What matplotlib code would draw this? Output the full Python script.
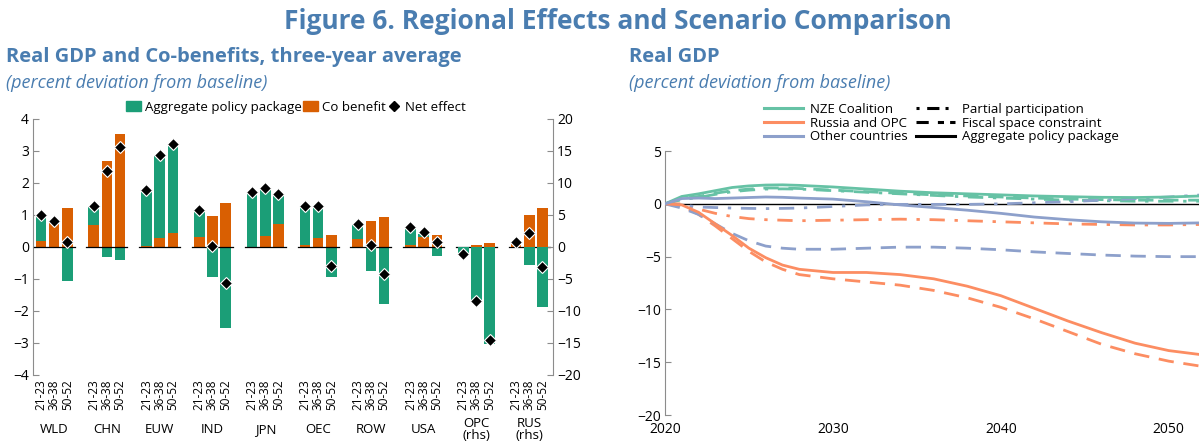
import matplotlib
matplotlib.use("Agg")
import matplotlib.pyplot as plt
from matplotlib.patches import Patch
from matplotlib.lines import Line2D
from matplotlib.transforms import blended_transform_factory
import numpy as np

plt.rcParams["font.family"] = ["Open Sans", "DejaVu Sans"]

# ---- left panel data (three-year averages) ----
regions = ["WLD", "CHN", "EUW", "IND", "JPN", "OEC", "ROW", "USA", "OPC\n(rhs)", "RUS\n(rhs)"]
periods = ["21-23", "36-38", "50-52"]
rhs_regions = ["OPC\n(rhs)", "RUS\n(rhs)"]

# aggregate policy package (green)
policy = [
    [0.78, -0.04, -1.05],   # WLD
    [0.55, -0.32, -0.42],   # CHN
    [1.75, 2.55, 2.71],     # EUW
    [0.83, -0.93, -2.52],   # IND
    [1.70, 1.45, 0.87],     # JPN
    [1.20, 0.97, -0.95],    # OEC
    [0.43, -0.75, -1.78],   # ROW
    [0.55, 0.10, -0.27],    # USA
    [-1.10, -8.7, -15.2],   # OPC (rhs)
    [0.15, -2.8, -9.3],     # RUS (rhs)
]
# co benefit (orange)
cobenefit = [
    [0.19, 0.83, 1.21],
    [0.70, 2.68, 3.53],
    [0.02, 0.28, 0.45],
    [0.30, 0.96, 1.37],
    [-0.02, 0.35, 0.72],
    [0.05, 0.28, 0.36],
    [0.25, 0.80, 0.93],
    [0.05, 0.30, 0.38],
    [0.0, 0.3, 0.6],
    [0.6, 4.95, 6.15],
]
# net effect (diamonds)
net = [
    [1.0, 0.81, 0.16],
    [1.28, 2.37, 3.12],
    [1.77, 2.88, 3.21],
    [1.17, 0.03, -1.14],
    [1.73, 1.85, 1.67],
    [1.29, 1.29, -0.59],
    [0.72, 0.06, -0.86],
    [0.63, 0.46, 0.14],
    [-1.1, -8.4, -14.6],
    [0.8, 2.15, -3.2],
]

# ---- right panel data (real GDP, % dev. from baseline) ----
years = [2020, 2021, 2022, 2023, 2024, 2025, 2026, 2027, 2028, 2030, 2032,
         2034, 2036, 2038, 2040, 2042, 2044, 2046, 2048, 2050, 2052]
nze_agg = [0, 0.7, 0.95, 1.25, 1.55, 1.7, 1.78, 1.8, 1.75, 1.6, 1.4,
           1.2, 1.05, 0.95, 0.85, 0.75, 0.68, 0.62, 0.6, 0.65, 0.75]
nze_fiscal = [0, 0.5, 0.7, 1.0, 1.25, 1.4, 1.5, 1.5, 1.45, 1.3, 1.15,
              1.0, 0.85, 0.75, 0.65, 0.55, 0.45, 0.4, 0.35, 0.35, 0.35]
nze_partial = [0, 0.4, 0.6, 0.9, 1.15, 1.3, 1.4, 1.42, 1.4, 1.25, 1.1,
               0.95, 0.8, 0.65, 0.55, 0.45, 0.35, 0.3, 0.25, 0.25, 0.25]
rus_agg = [0, -0.1, -0.8, -1.9, -3.0, -4.2, -5.1, -5.8, -6.2, -6.5, -6.5,
           -6.7, -7.1, -7.8, -8.7, -9.9, -11.1, -12.2, -13.2, -13.9, -14.3]
rus_fiscal = [0, -0.2, -1.0, -2.1, -3.3, -4.5, -5.5, -6.2, -6.7, -7.1, -7.4,
              -7.7, -8.2, -8.9, -9.8, -10.9, -12.1, -13.3, -14.2, -14.9, -15.4]
rus_partial = [0, 0, -0.5, -0.9, -1.2, -1.4, -1.5, -1.55, -1.6, -1.55, -1.5,
               -1.45, -1.5, -1.6, -1.7, -1.8, -1.9, -1.95, -2.0, -2.0, -1.95]
oth_agg = [0, 0.5, 0.55, 0.5, 0.55, 0.6, 0.65, 0.62, 0.55, 0.45, 0.2,
           -0.1, -0.35, -0.6, -0.9, -1.25, -1.5, -1.7, -1.82, -1.85, -1.8]
oth_fiscal = [0, -0.4, -1.0, -1.9, -2.8, -3.5, -4.0, -4.2, -4.3, -4.3, -4.2,
              -4.1, -4.1, -4.2, -4.35, -4.55, -4.7, -4.85, -4.95, -5.0, -5.0]
oth_partial = [0, -0.1, -0.3, -0.35, -0.4, -0.43, -0.45, -0.43, -0.4, -0.25, -0.1,
               -0.05, -0.05, -0.05, 0.0, 0.1, 0.2, 0.35, 0.5, 0.65, 0.85]

GREEN, ORANGE = "#1b9e77", "#d95f02"
C_NZE, C_RUS, C_OTH = "#66c2a5", "#fc8d62", "#8da0cb"
BLUE_T = "#4a7db0"
GRAY = "#8c8c8c"

fig = plt.figure(figsize=(11.99, 4.43), dpi=100)

fig.text(0.515, 0.952, "Figure 6. Regional Effects and Scenario Comparison",
         ha="center", va="center", fontsize=19, fontweight="bold", color=BLUE_T)
fig.text(0.005, 0.871, "Real GDP and Co-benefits, three-year average",
         ha="left", va="center", fontsize=14.5, fontweight="bold", color=BLUE_T)
fig.text(0.005, 0.813, "(percent deviation from baseline)",
         ha="left", va="center", fontsize=13, style="italic", color=BLUE_T)
fig.text(0.525, 0.871, "Real GDP", ha="left", va="center",
         fontsize=14.5, fontweight="bold", color=BLUE_T)
fig.text(0.525, 0.813, "(percent deviation from baseline)",
         ha="left", va="center", fontsize=13, style="italic", color=BLUE_T)

# ---------------- left panel ----------------
ax = fig.add_axes([0.0275, 0.1535, 0.4337, 0.578])
ax2 = ax.twinx()
ax.set_ylim(-4, 4)
ax2.set_ylim(-20, 20)
ax.set_xlim(-0.6, 38.8)

width = 0.8
xpos, xlab = [], []
for g, reg in enumerate(regions):
    target = ax2 if reg in rhs_regions else ax
    for j in range(3):
        x = g * 4 + j
        p, c = policy[g][j], cobenefit[g][j]
        target.bar(x, c, width, color=ORANGE, zorder=2)
        pb = c if (p * c > 0) else 0
        target.bar(x, p, width, bottom=pb, color=GREEN, zorder=2)
        target.plot(x, net[g][j], marker="D", color="black", markersize=6.5,
                    markeredgecolor="white", markeredgewidth=0.8, zorder=4)
        xpos.append(x)
        xlab.append(periods[j])
    ax.plot([g * 4 - 0.55, g * 4 + 2.55], [0, 0], color="black", lw=0.9, zorder=3)

ax.set_xticks(xpos)
ax.set_xticklabels(xlab, rotation=90, fontsize=8.5)
ax.tick_params(axis="x", length=0, pad=3)
trans = blended_transform_factory(ax.transData, fig.transFigure)
for g, reg in enumerate(regions):
    ax.text(g * 4 + 1, 0.03, reg, transform=trans, ha="center", va="center",
            fontsize=9.5, linespacing=0.95)

ax.set_yticks(range(-4, 5))
ax2.set_yticks(range(-20, 21, 5))
for a in (ax, ax2):
    a.tick_params(axis="y", direction="in", length=4, color=GRAY, labelsize=10, pad=3)
    for s in ("top", "bottom"):
        a.spines[s].set_visible(False)
    a.spines["left"].set_color(GRAY)
    a.spines["right"].set_color(GRAY)
ax.spines["right"].set_visible(False)
ax2.spines["left"].set_visible(False)
ax2.tick_params(axis="y", labelright=True)

leg_handles = [Patch(color=GREEN), Patch(color=ORANGE),
               Line2D([], [], marker="D", color="black", linestyle="none", markersize=5)]
fig.legend(leg_handles, ["Aggregate policy package", "Co benefit", "Net effect"],
           loc="center", bbox_to_anchor=(0.247, 0.758), ncol=3, frameon=False,
           fontsize=9.5, handlelength=1.1, handleheight=0.8, handletextpad=0.3,
           columnspacing=0.1, borderpad=0)

# ---------------- right panel ----------------
rx = fig.add_axes([0.5546, 0.0632, 0.4454, 0.5958])
rx.set_xlim(2020, 2051.8)
rx.set_ylim(-20, 5)
rx.axhline(0, color="black", lw=1, zorder=1)
fiscal_ls = (0, (5.5, 3.5))
partial_ls = (0, (5.5, 3.5, 1.2, 3.5))
lw = 2.0
for col, agg, fis, par in [(C_NZE, nze_agg, nze_fiscal, nze_partial),
                           (C_RUS, rus_agg, rus_fiscal, rus_partial),
                           (C_OTH, oth_agg, oth_fiscal, oth_partial)]:
    rx.plot(years, par, color=col, lw=lw, linestyle=partial_ls, zorder=2)
    rx.plot(years, fis, color=col, lw=lw, linestyle=fiscal_ls, zorder=2)
    rx.plot(years, agg, color=col, lw=lw, zorder=3)

rx.set_yticks(range(-20, 6, 5))
rx.set_xticks([2020, 2030, 2040, 2050])
rx.tick_params(axis="y", direction="in", length=4, color=GRAY, labelsize=10, pad=3)
rx.tick_params(axis="x", length=0, labelsize=10, pad=5)
for s in ("top", "right", "bottom"):
    rx.spines[s].set_visible(False)
rx.spines["left"].set_color(GRAY)

r_handles = [Line2D([], [], color=C_NZE, lw=2.2), Line2D([], [], color=C_RUS, lw=2.2),
             Line2D([], [], color=C_OTH, lw=2.2),
             Line2D([], [], color="black", lw=2.2, linestyle=(0, (1, 2.5, 4, 2))),
             Line2D([], [], color="black", lw=2.2, linestyle=(0, (4, 3, 2, 2))),
             Line2D([], [], color="black", lw=2.2)]
r_labels = ["NZE Coalition", "Russia and OPC", "Other countries",
            "Partial participation", "Fiscal space constraint", "Aggregate policy package"]
fig.legend(r_handles, r_labels, loc="center", bbox_to_anchor=(0.785, 0.722), ncol=2,
           frameon=False, fontsize=9.5, handlelength=3, handletextpad=0.5,
           columnspacing=0.6, labelspacing=0.05, borderpad=0)

fig.savefig("out.png", dpi=100)
